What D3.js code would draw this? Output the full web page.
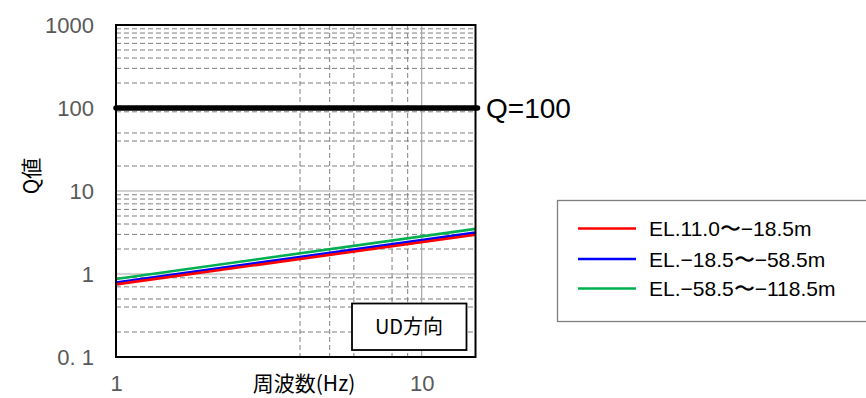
<!DOCTYPE html>
<html><head><meta charset="utf-8">
<script src="https://cdn.jsdelivr.net/npm/d3@7"></script>
<style>body{margin:0;background:#fff}svg{display:block}</style>
</head><body>
<svg id="c" width="866" height="398"></svg>
<script>
// ---- data ----
const freq = [1, 15];
const seriesNames = ["EL.11.0〜−18.5m", "EL.−18.5〜−58.5m", "EL.−58.5〜−118.5m"];
const seriesRed = [0.75, 2.97];
const seriesBlue = [0.79, 3.15];
const seriesGreen = [0.87, 3.5];
const seriesColors = ["#ff0000", "#0000ff", "#00b050"];
const qLimit = 100;
const yTicks = [0.1, 1, 10, 100, 1000];
const yTickLabels = ["0. 1", "1", "10", "100", "1000"];
const xTicks = [1, 10];
const xTickLabels = ["1", "10"];
const yMajorGrid = [1, 10];
const yMinorGrid = [200,300,400,500,600,700,800,900, 20,40,50,90, 2,3,4,5,6,7,8,9, 0.2,0.4,0.5,0.7,0.9];
const xMajorGrid = [10];
const xMinorGrid = [4,5,6,8,9];

const svg = d3.select("#c");
const L = 116, R = 475.5, T = 25, B = 357;
const x = d3.scaleLog().domain([1, 15]).range([L, R]);
const y = d3.scaleLog().domain([0.1, 1000]).range([B, T]);
const sans = "'Liberation Sans', Arial, sans-serif";
const cjk = "'Noto Sans CJK JP', 'Noto Sans', sans-serif";

// grid
const g = svg.append("g");
g.selectAll(".ym").data(yMinorGrid).join("line")
  .attr("x1", L).attr("x2", R).attr("y1", d => y(d)).attr("y2", d => y(d))
  .attr("stroke", "#7f7f7f").attr("stroke-width", 1).attr("stroke-dasharray", "5,3");
g.selectAll(".xm").data(xMinorGrid).join("line")
  .attr("y1", T).attr("y2", B).attr("x1", d => x(d)).attr("x2", d => x(d))
  .attr("stroke", "#7f7f7f").attr("stroke-width", 1).attr("stroke-dasharray", "5,3");
g.selectAll(".yM").data(yMajorGrid).join("line")
  .attr("x1", L).attr("x2", R).attr("y1", d => y(d)).attr("y2", d => y(d))
  .attr("stroke", "#a6a6a6").attr("stroke-width", 1.2);
g.selectAll(".xM").data(xMajorGrid).join("line")
  .attr("y1", T).attr("y2", B).attr("x1", d => x(d)).attr("x2", d => x(d))
  .attr("stroke", "#a6a6a6").attr("stroke-width", 1.2);

// series
const series = [seriesRed, seriesBlue, seriesGreen];
const line = d3.line().x((d, i) => x(freq[i])).y(d => y(d));
[2, 1, 0].forEach(k => {
  svg.append("path").datum(series[k]).attr("d", line)
    .attr("fill", "none").attr("stroke", seriesColors[k]).attr("stroke-width", 2.6);
});

// Q=100 line
svg.append("line").attr("x1", x(1)).attr("x2", x(15) + 2)
  .attr("y1", y(qLimit)).attr("y2", y(qLimit))
  .attr("stroke", "#000").attr("stroke-width", 5.5).attr("stroke-linecap", "round");
svg.append("text").attr("x", 486).attr("y", y(qLimit)).attr("dy", "0.36em")
  .attr("font-family", sans).attr("font-size", 28).attr("fill", "#000").text("Q=" + qLimit);

// plot border
svg.append("rect").attr("x", L).attr("y", T).attr("width", R - L).attr("height", B - T)
  .attr("fill", "none").attr("stroke", "#000").attr("stroke-width", 2);

// axes
const ya = svg.append("g").attr("transform", `translate(${94},0)`)
  .call(d3.axisLeft(y).tickValues(yTicks).tickSize(0).tickPadding(0)
    .tickFormat((d, i) => yTickLabels[i]));
ya.select(".domain").remove();
ya.selectAll("text").attr("font-family", sans)
  .attr("font-size", 22).attr("fill", "#595959").attr("dy", "0.36em");

const xa = svg.append("g").attr("transform", `translate(0,${370})`)
  .call(d3.axisBottom(x).tickValues(xTicks).tickSize(0).tickPadding(0)
    .tickFormat((d, i) => xTickLabels[i]));
xa.select(".domain").remove();
xa.selectAll("text").attr("font-family", sans)
  .attr("font-size", 22).attr("fill", "#595959").attr("dy", "0.36em").attr("y", 13);

// axis titles
svg.append("text").attr("x", 304).attr("y", 383).attr("dy", "0.36em").attr("text-anchor", "middle")
  .attr("font-family", cjk).attr("font-size", 21).attr("fill", "#000").text("周波数(Hz)");
svg.append("text").attr("transform", "translate(31,176) rotate(-90)").attr("dy", "0.36em")
  .attr("text-anchor", "middle").attr("font-family", cjk).attr("font-size", 21).attr("fill", "#000").text("Q値");

// UD box
svg.append("rect").attr("x", 352).attr("y", 303.5).attr("width", 114.5).attr("height", 46.5)
  .attr("fill", "#fff").attr("stroke", "#000").attr("stroke-width", 1.8);
svg.append("text").attr("x", 409).attr("y", 327).attr("dy", "0.36em").attr("text-anchor", "middle")
  .attr("font-family", cjk).attr("font-size", 20).attr("fill", "#000").text("UD方向");

// legend
svg.append("rect").attr("x", 557.5).attr("y", 200.5).attr("width", 320).attr("height", 121)
  .attr("fill", "#fff").attr("stroke", "#7f7f7f").attr("stroke-width", 1.3);
const legY = [228.5, 259, 288.5];
seriesNames.forEach((n, i) => {
  svg.append("line").attr("x1", 578).attr("x2", 636).attr("y1", legY[i]).attr("y2", legY[i])
    .attr("stroke", seriesColors[i]).attr("stroke-width", 2.6);
  svg.append("text").attr("x", 649).attr("y", legY[i]).attr("dy", "0.36em")
    .attr("font-family", sans).attr("font-size", 21).attr("fill", "#000").text(n);
});
</script>
</body></html>
